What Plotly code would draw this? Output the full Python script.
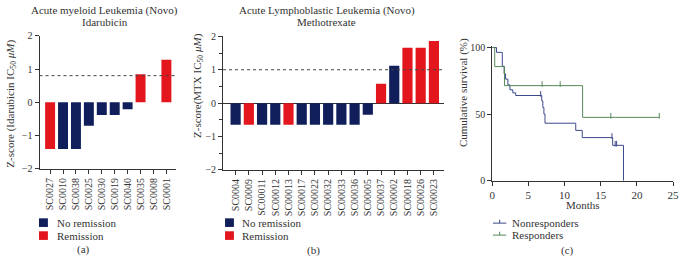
import plotly.graph_objects as go

W, H = 684, 267
FONT = "Liberation Serif"
TXT = "#333333"
NAVY = "#101f5c"
RED = "#e3161d"
LNAVY = "#3d4a8c"
LGREEN = "#55895a"

# ---- Panel (a) data ----
aml_samples = ["SC0027", "SC0010", "SC0038", "SC0025", "SC0030", "SC0019",
               "SC0040", "SC0035", "SC0008", "SC0001"]
aml_z = [-1.4, -1.4, -1.4, -0.7, -0.38, -0.38, -0.21, 0.84, 0.0, 1.28]
aml_remission = [True, False, False, False, False, False, False, True, False, True]
aml_threshold = 0.8

# ---- Panel (b) data ----
all_samples = ["SC0004", "SC0009", "SC00011", "SC00012", "SC00013", "SC00017",
               "SC00022", "SC00032", "SC00033", "SC00036", "SC00005", "SC00037",
               "SC00002", "SC00018", "SC00026", "SC00023"]
all_z = [-0.65, -0.65, -0.65, -0.65, -0.65, -0.65, -0.65, -0.65, -0.65, -0.65,
         -0.35, 0.58, 1.12, 1.66, 1.66, 1.86]
all_remission = [False, True, False, False, True, False, False, False, False, False,
                 False, True, False, True, True, True]
all_threshold = 1.0

# ---- Panel (c) data (Kaplan-Meier steps) ----
nonresp_t = [0, 0.6, 1.4, 1.65, 1.85, 2.17, 2.45, 2.85, 3.25, 6.85, 7.0, 7.15, 7.3,
             11.55, 12.45, 16.65, 18.15]
nonresp_s = [100, 96.4, 86, 80.3, 76.3, 72, 68.3, 66, 64, 60, 55, 50, 43.2,
             37.8, 32.4, 26.6, 0]
nonresp_cens_t = [6.7, 16.55, 17.0, 17.2]
nonresp_cens_s = [64, 32.4, 26.6, 26.6]
resp_t = [0, 0.35, 1.7, 12.5, 23.1]
resp_s = [100, 85.7, 71.4, 47.6, 47.6]
resp_cens_t = [6.9, 9.4, 16.4, 23.1]
resp_cens_s = [71.4, 71.4, 47.6, 47.6]


def px(x):
    return x / W


def py(y):
    return 1 - y / H


fig = go.Figure()


def add_bars(samples, z, rem, xa, ya):
    navy_vals = [v if not r else None for v, r in zip(z, rem)]
    red_vals = [v if r else None for v, r in zip(z, rem)]
    fig.add_trace(go.Bar(x=samples, y=navy_vals, marker_color=NAVY, marker_line_width=0,
                         xaxis=xa, yaxis=ya, showlegend=False))
    fig.add_trace(go.Bar(x=samples, y=red_vals, marker_color=RED, marker_line_width=0,
                         xaxis=xa, yaxis=ya, showlegend=False))


add_bars(aml_samples, aml_z, aml_remission, "x", "y")
add_bars(all_samples, all_z, all_remission, "x2", "y2")

# KM curves
fig.add_trace(go.Scatter(x=nonresp_t, y=nonresp_s, mode="lines", line=dict(shape="hv", color=LNAVY, width=1),
                         xaxis="x3", yaxis="y3", showlegend=False))
fig.add_trace(go.Scatter(x=resp_t, y=resp_s, mode="lines", line=dict(shape="hv", color=LGREEN, width=1),
                         xaxis="x3", yaxis="y3", showlegend=False))
fig.add_trace(go.Scatter(x=nonresp_cens_t, y=[s + 1.2 for s in nonresp_cens_s], mode="markers",
                         marker=dict(symbol="line-ns", size=4, line=dict(color=LNAVY, width=1)),
                         xaxis="x3", yaxis="y3", showlegend=False))
fig.add_trace(go.Scatter(x=resp_cens_t, y=[s + 1.2 for s in resp_cens_s], mode="markers",
                         marker=dict(symbol="line-ns", size=4, line=dict(color=LGREEN, width=1)),
                         xaxis="x3", yaxis="y3", showlegend=False))

axis_common = dict(showline=True, linecolor=TXT, linewidth=1, ticks="outside", ticklen=4,
                   tickcolor=TXT, tickwidth=1, showgrid=False,
                   tickfont=dict(family=FONT, size=10, color=TXT))

fig.update_layout(
    width=W, height=H, margin=dict(l=0, r=0, t=0, b=0),
    paper_bgcolor="white", plot_bgcolor="white",
    barmode="overlay", bargap=0.23,
    font=dict(family=FONT, color=TXT, size=11),
    xaxis=dict(domain=[px(37), px(175)], type="category", categoryorder="array",
               categoryarray=aml_samples, range=[-0.82, 9.72], tickangle=-90,
               anchor="y", **axis_common),
    yaxis=dict(domain=[py(171), py(32)], range=[-2, 2], tickvals=[-2, -1, 0, 1, 2],
               zeroline=False, anchor="x", **axis_common),
    xaxis2=dict(domain=[px(223), px(446.7)], type="category", categoryorder="array",
                categoryarray=all_samples, range=[-0.95, 15.75], tickangle=-90,
                anchor="y2", **axis_common),
    yaxis2=dict(domain=[py(172), py(32.7)], range=[-2, 2], tickvals=[-2, -1, 0, 1, 2],
                minor=dict(dtick=0.5, ticks="outside", ticklen=3, tickcolor=TXT),
                zeroline=True, zerolinecolor=TXT, zerolinewidth=1, anchor="x2", **axis_common),
    xaxis3=dict(domain=[px(495.7), px(679)], range=[0, 25], tickvals=[0, 5, 10, 15, 20, 25],
                zeroline=False, anchor="y3", ticklabeloverflow="allow",
                **{**axis_common, "tickfont": dict(family=FONT, size=11, color=TXT)}),
    yaxis3=dict(domain=[py(183.3), py(43.0)], range=[0, 101], tickvals=[0, 50, 100],
                zeroline=False, anchor="x3", **axis_common),
)

# threshold dotted lines
fig.add_shape(type="line", xref="x domain", yref="y", x0=0, x1=1, y0=aml_threshold, y1=aml_threshold,
              line=dict(color="#444444", width=1, dash="dot"))
fig.add_shape(type="line", xref="x2 domain", yref="y2", x0=0, x1=1, y0=all_threshold, y1=all_threshold,
              line=dict(color="#444444", width=1, dash="dot"))

ann = []


def text(x, y, s, size=11, angle=0, xanchor="center"):
    ann.append(dict(x=px(x), y=py(y), xref="paper", yref="paper", text=s, showarrow=False,
                    font=dict(family=FONT, size=size, color=TXT), textangle=angle,
                    xanchor=xanchor, yanchor="middle"))


# titles
text(103, 5.5, "Acute myeloid Leukemia (Novo)")
text(103, 18, "Idarubicin")
text(328, 5.5, "Acute Lymphoblastic Leukemia (Novo)")
text(328, 18, "Methotrexate")

# y titles
text(8, 103, "Z-score (Idarubicin IC<sub>50</sub> <i>μM</i>)", angle=-90)
text(197, 84, "Z-score(MTX IC<sub>50</sub> <i>μM</i>)", angle=-90)
text(466, 91, "Cumulative survival (%)", angle=-90)
text(588, 209, "Months")

# panel labels
text(82, 255, "(a)")
text(315, 256, "(b)")
text(572, 256, "(c)")

# legends for bars
for (lx, tx) in [(36.5, 53), (225, 240.5)]:
    for i, (col, lab) in enumerate([(NAVY, "No remission"), (RED, "Remission")]):
        cy = 227 + i * 13.5
        fig.add_shape(type="rect", xref="paper", yref="paper", x0=px(lx), x1=px(lx + 9),
                      y0=py(cy + 4.5), y1=py(cy - 4.5), fillcolor=col, line=dict(width=0))
        text(tx, cy, lab, xanchor="left")

# legend for KM
for i, (col, lab) in enumerate([(LNAVY, "Nonresponders"), (LGREEN, "Responders")]):
    cy = 227.5 + i * 12.5
    fig.add_shape(type="line", xref="paper", yref="paper", x0=px(496.5), x1=px(510),
                  y0=py(cy), y1=py(cy), line=dict(color=col, width=1))
    fig.add_shape(type="line", xref="paper", yref="paper", x0=px(503.3), x1=px(503.3),
                  y0=py(cy), y1=py(cy - 3.5), line=dict(color=col, width=1))
    text(513.5, cy, lab, xanchor="left")

fig.update_layout(annotations=ann)
fig.write_html("out.html", config={"displayModeBar": False},
               post_script="document.body.style.margin='0';document.body.style.padding='0';"
                           "document.body.style.overflow='hidden';")
